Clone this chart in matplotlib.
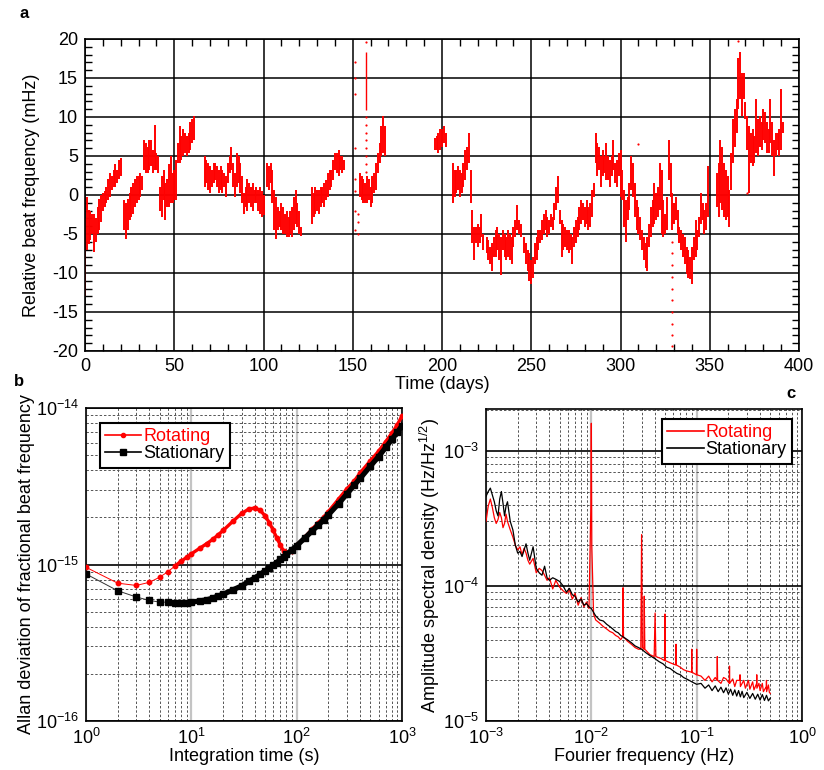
import numpy as np
import matplotlib
matplotlib.use("Agg")
import matplotlib.pyplot as plt
from matplotlib.lines import Line2D
from matplotlib.ticker import MultipleLocator, LogLocator, NullFormatter

plt.rcParams["font.family"] = ["Liberation Sans", "DejaVu Sans"]
plt.rcParams["mathtext.fontset"] = "custom"
plt.rcParams["mathtext.rm"] = "Liberation Sans"
plt.rcParams["mathtext.it"] = "Liberation Sans:italic"
plt.rcParams["mathtext.bf"] = "Liberation Sans:bold"
plt.rcParams["axes.unicode_minus"] = False

# --- panel a: daily min / max of beat frequency (mHz) ---
a_day = [0, 1, 2, 3, 4, 5, 6, 7, 8, 9, 10, 11, 12, 13, 14, 15, 16, 17, 18, 19, 20,
         22, 23, 24, 25, 26, 27, 28, 29, 30, 31, 32, 33, 34, 35, 36, 37, 38, 39, 40, 41,
         42, 43, 44, 45, 46, 47, 48, 49, 50, 51, 52, 53, 54, 55, 56, 57, 58, 59, 60, 61,
         67, 68, 69, 70, 71, 72, 73, 74, 75, 76, 77, 78, 79, 80, 81, 82, 83, 84, 85, 86,
         87, 88, 89, 90, 91, 92, 93, 94, 95, 96, 97, 98, 99, 100,
         102, 103, 104, 105, 106, 107, 108, 109, 110, 111, 112, 113, 114, 115, 116, 117,
         118, 119, 120, 121,
         127, 128, 129, 130, 131, 132, 133, 134, 135, 136, 137, 138, 139, 140, 141, 142,
         143, 144, 145,
         154, 155, 156, 157, 158, 159, 160, 161, 162, 163, 164, 165, 166, 167, 168,
         196, 197, 198, 199, 200, 201, 202,
         206, 207, 208, 209, 210, 211, 212, 213, 214, 215, 216, 217, 218, 219, 220, 221,
         222, 223, 225, 226, 227, 228, 229, 230, 231, 232, 233, 234, 235, 236, 237, 238,
         239, 240, 241, 242, 243, 244, 246, 247, 248, 249, 250, 251, 252, 253, 254, 255,
         256, 257, 258, 259, 260, 261, 262, 263, 264, 265, 266, 267, 268, 269, 270, 271,
         272, 273, 274, 275, 276, 277, 278, 279, 280, 281, 282, 283, 284, 285, 286, 287,
         288, 289, 290, 291, 292, 293, 294, 295, 296, 297, 298, 299, 300, 301, 302, 303,
         304, 305, 306, 307, 308, 309, 310, 311, 312, 313, 314, 315, 316, 317, 318, 319,
         320, 321, 322, 323, 324, 325, 326, 327, 328, 329, 330, 331, 332, 333, 334, 335,
         336, 337, 338, 339, 340, 341, 342, 343, 344, 345, 346, 347, 348, 349,
         354, 355, 356, 357, 358, 359, 360, 361, 362, 363, 364, 365, 366, 367, 368, 369,
         370, 371, 372, 373, 374, 375, 376, 377, 378, 379, 380, 381, 382, 383, 384, 385,
         386, 387, 388, 389, 390, 391]
a_lo = [-13.0, -7.1, -6.3, -5.8, -5.0, -7.3, -6.0, -5.0, -4.5, -3.5, -2.0, -1.5, -1.0, -0.6, -0.2, 0.6, 1.0, 1.0, 1.5, 2.0, 2.4,
        -4.5, -5.6, -4.5, -3.2, -2.8, -2.4, -1.5, -1.0, -0.6, -0.2, 0.6, 3.2, 2.8, 2.8, 3.2, 3.7, 2.8, 3.2, 3.2, 2.8,
        -2.0, -2.8, -0.6, -3.2, -1.5, -1.5, -1.0, -1.0, -0.6, -0.6, 4.1, 4.1, 4.5, 5.0, 5.4, 5.0, 5.4, 5.8, 6.7, 7.1,
        1.0, 1.5, 0.6, 0.2, 1.0, 1.5, 1.9, 1.0, 0.2, 0.6, 0.2, 1.0, -0.2, 1.5, 2.8, 3.2, 1.0, -0.2, 1.0, 1.5,
        0.2, -1.0, -2.4, -1.5, -2.0, -1.0, -1.5, -2.0, -1.0, -1.0, -2.0, -2.5, -2.8, -2.6,
        1.0, 0.6, 1.5, -1.0, -4.5, -5.6, -4.5, -4.1, -4.5, -5.0, -5.0, -5.4, -5.4, -5.0, -5.4, -4.5,
        -3.7, -4.1, -5.0, -5.2,
        -3.7, -2.8, -2.4, -2.0, -2.4, -1.5, -1.0, -1.5, -0.6, -0.2, 0.6, 1.0, 1.9, 3.2, 2.8, 2.4,
        3.2, 2.8, 3.2,
        -0.2, -0.6, -1.0, -1.0, -1.0, -0.6, -1.5, -1.0, 0.2, 0.6, 2.8, 4.1, 5.0, 5.4, 5.0,
        5.8, 5.8, 5.4, 5.8, 6.2, 6.7, 6.2,
        -1.0, -0.2, 0.2, 0.6, -0.2, 0.2, 1.0, 1.9, 3.2, 4.1, -1.0, -6.2, -8.4, -6.2, -6.7, -6.2,
        -5.4, -7.1, -7.5, -8.4, -8.8, -9.7, -8.0, -8.0, -7.1, -8.4, -10.3, -7.1, -8.0, -8.4, -8.0, -8.4,
        -8.8, -6.7, -5.4, -4.5, -5.0, -5.4, -7.5, -8.8, -9.7, -11.0, -11.4, -10.6, -8.8, -8.4, -7.1, -6.2,
        -5.8, -5.0, -4.5, -5.4, -5.0, -4.1, -4.5, -3.2, -1.9, -1.0, -3.7, -8.0, -7.1, -6.7, -7.1, -7.5,
        -7.1, -8.8, -6.7, -6.2, -5.4, -4.5, -3.7, -3.2, -4.1, -3.7, -4.5, -4.1, -2.8, -0.2, 4.1, 2.4,
        3.2, 1.0, 2.4, 2.8, 1.9, 1.9, 1.0, 2.4, 3.2, 1.5, 1.0, 2.4, -0.2, -0.6, -4.1, -6.0,
        -3.2, -1.9, 0.6, -0.2, -2.8, -4.5, -5.0, -5.8, -7.1, -8.4, -9.3, -9.7, -6.7, -5.4, -4.1, -3.7,
        -3.2, -2.8, -1.9, -5.0, -5.4, -5.0, -4.5, 1.9, -0.2, -4.5, -3.7, -3.2, -5.0, -6.2, -7.1, -8.0,
        -8.8, -10.1, -10.6, -10.8, -11.4, -8.4, -8.0, -7.1, -5.4, -3.7, -3.2, -5.0, -4.5, -2.8,
        -1.5, -2.8, -1.0, -1.9, -2.8, -3.2, -2.8, -4.1, 0.6, 4.1, 6.2, 8.0, 11.0, 12.3, 10.1, 12.3,
        9.7, 5.8, 0.2, 4.1, 3.7, 4.1, 5.4, 5.0, 6.2, 5.8, 7.1, 6.7, 5.4, 5.4, 6.7, 5.0,
        2.4, 5.0, 5.8, 5.0, 5.8, 7.9]
a_hi = [-3.0, -0.2, -1.9, -2.0, -2.5, -2.5, -3.0, -1.5, -0.5, 0.0, 0.3, 0.5, 1.0, 2.0, 2.8, 2.4, 3.2, 4.0, 3.2, 4.5, 4.7,
        -0.6, -1.0, -0.5, 0.2, 1.0, 1.5, 2.0, 2.4, 2.4, 2.8, 2.4, 7.1, 6.7, 6.2, 7.1, 7.1, 5.8, 9.0, 5.4, 5.0,
        1.0, 2.4, 3.2, 1.5, 2.0, 4.0, 5.0, 2.8, 3.2, 4.5, 6.7, 8.8, 7.5, 8.4, 8.0, 7.5, 8.0, 9.3, 9.7, 10.1,
        5.0, 4.5, 4.1, 3.7, 3.2, 4.1, 4.1, 3.7, 3.2, 3.7, 3.2, 2.8, 2.4, 4.1, 5.0, 6.2, 4.1, 2.8, 5.4, 5.0,
        4.1, 2.4, 0.2, 1.0, 2.0, 1.5, 1.0, 1.5, 0.6, 1.0, 0.6, 1.0, 0.5, 0.0,
        4.1, 3.7, 4.1, 3.2, 0.6, -0.2, -1.5, -2.0, -1.0, -1.5, -2.4, -2.0, -2.8, -2.0, -1.5, -0.2,
        0.6, -1.0, -2.0, -4.1,
        1.0, 0.2, 1.0, 0.6, 0.6, 1.0, 1.0, 1.5, 1.9, 2.8, 3.2, 3.2, 4.5, 5.4, 5.4, 5.8,
        5.0, 5.0, 4.5,
        2.8, 2.4, 2.0, 1.5, 2.4, 2.0, 1.0, 2.4, 2.8, 4.1, 5.4, 6.7, 8.8, 10.1, 8.8,
        7.3, 7.5, 8.0, 8.4, 8.4, 8.8, 8.0,
        4.1, 3.2, 3.2, 3.7, 3.2, 2.8, 4.1, 5.8, 6.2, 7.9, 3.2, -1.9, -4.1, -4.1, -3.7, -4.1,
        -2.4, -5.0, -5.4, -5.8, -6.7, -6.2, -5.4, -4.5, -4.1, -5.0, -5.4, -4.5, -5.0, -5.4, -4.5, -5.0,
        -5.4, -4.1, -3.2, -1.3, -3.2, -3.7, -5.4, -6.2, -7.1, -7.5, -8.4, -8.0, -6.2, -5.4, -4.5, -4.5,
        -3.2, -2.4, -1.9, -2.8, -3.2, -2.4, -2.8, -1.0, 1.0, 2.4, -1.9, -3.2, -3.7, -4.1, -4.5, -4.5,
        -5.0, -5.4, -4.1, -3.2, -2.8, -1.5, -0.6, -1.0, -1.5, -0.6, -1.5, -1.0, 0.6, 1.5, 7.9, 6.7,
        6.2, 5.0, 5.8, 5.0, 6.7, 5.0, 4.5, 5.0, 7.1, 4.1, 4.5, 5.4, 5.8, 3.2, 0.6, -0.6,
        -0.2, 1.5, 5.0, 4.1, 1.5, -0.6, -1.5, -2.8, -4.5, -5.4, -6.2, -5.4, -3.7, -1.5, -0.6, 1.5,
        0.2, 1.0, 4.1, 3.2, -0.6, -2.4, -0.2, 7.1, 4.1, 0.2, -1.0, -0.2, -1.9, -4.1, -4.5, -5.0,
        -5.4, -6.7, -7.1, -8.0, -6.7, -5.4, -3.2, -4.5, -2.8, 0.2, -1.0, -1.9, -1.0, 3.7,
        2.8, 4.1, 7.1, 6.2, 4.1, 3.2, 2.4, 0.6, 5.4, 9.7, 11.0, 12.3, 17.5, 18.3, 15.7, 15.7,
        11.9, 10.1, 8.8, 7.9, 8.4, 7.5, 12.3, 9.7, 10.1, 9.3, 11.0, 10.6, 9.3, 8.4, 12.3, 9.3,
        7.1, 7.9, 7.9, 8.4, 13.6, 9.3]
# isolated points and the dense spike near day 157
spike_day = [157.5]
spike_lo = [10.9]
spike_hi = [18.3]
dot_day = [151, 151, 151, 151, 151, 151, 151, 151, 153, 153, 153,
           157.5, 157.5, 157.5, 157.5, 157.5, 157.5, 157.5, 157.5, 157.5,
           329, 329, 329, 329, 329, 329, 329, 329, 329, 329, 366, 310, 371]
dot_val = [-4.5, -2.0, 0.5, 2.0, 6.0, 13.0, 15.0, 17.0, -5.0, -3.5, -2.5,
           3.0, 4.0, 5.0, 6.0, 7.0, 8.0, 9.0, 10.0, 19.6,
           -6.0, -7.5, -9.0, -10.5, -12.0, -13.5, -15.0, -16.5, -18.0, -19.3, 19.8, 6.5, 0.2]

# --- panel b: Allan deviation ---
tau = [1, 2, 3, 4, 5, 6, 7, 8, 9, 10, 12, 14, 16, 18, 20, 25, 30, 35, 40, 45, 50, 55,
       60, 65, 70, 75, 80, 90, 100, 120, 140, 160, 180, 200, 250, 300, 350, 400, 500,
       600, 700, 800, 900, 1000]
adev_rot = [9.6e-16, 7.6e-16, 7.35e-16, 7.7e-16, 8.3e-16, 9.0e-16, 9.8e-16, 1.05e-15,
            1.11e-15, 1.17e-15, 1.27e-15, 1.36e-15, 1.45e-15, 1.55e-15, 1.65e-15, 1.9e-15,
            2.12e-15, 2.26e-15, 2.3e-15, 2.22e-15, 2.05e-15, 1.85e-15, 1.65e-15, 1.47e-15,
            1.33e-15, 1.22e-15, 1.17e-15, 1.22e-15, 1.33e-15, 1.5e-15, 1.68e-15, 1.85e-15,
            2.0e-15, 2.18e-15, 2.62e-15, 3.05e-15, 3.4e-15, 3.85e-15, 4.6e-15, 5.3e-15,
            6.1e-15, 6.9e-15, 7.8e-15, 8.9e-15]
adev_stat = [8.7e-16, 6.8e-16, 6.2e-16, 5.9e-16, 5.75e-16, 5.75e-16, 5.7e-16, 5.7e-16,
             5.7e-16, 5.75e-16, 5.85e-16, 5.95e-16, 6.1e-16, 6.3e-16, 6.45e-16, 6.9e-16,
             7.3e-16, 7.8e-16, 8.2e-16, 8.65e-16, 9.1e-16, 9.5e-16, 9.9e-16, 1.03e-15,
             1.08e-15, 1.12e-15, 1.16e-15, 1.24e-15, 1.32e-15, 1.48e-15, 1.64e-15, 1.78e-15,
             1.93e-15, 2.08e-15, 2.45e-15, 2.83e-15, 3.2e-15, 3.55e-15, 4.25e-15, 4.9e-15,
             5.6e-15, 6.3e-15, 7.0e-15, 7.7e-15]

# --- panel c: amplitude spectral density ---
f_stat = [1.0e-3, 1.05e-3, 1.1e-3, 1.15e-3, 1.2e-3, 1.25e-3, 1.3e-3, 1.35e-3, 1.4e-3,
          1.45e-3, 1.5e-3, 1.55e-3, 1.6e-3, 1.7e-3, 1.8e-3, 1.9e-3, 2.0e-3, 2.1e-3, 2.2e-3,
          2.3e-3, 2.4e-3, 2.5e-3, 2.6e-3, 2.8e-3, 3.0e-3, 3.2e-3, 3.4e-3, 3.6e-3, 3.8e-3,
          4.0e-3, 4.3e-3, 4.6e-3, 5.0e-3, 5.4e-3, 5.8e-3, 6.2e-3, 6.6e-3, 7.0e-3, 7.5e-3,
          8.0e-3, 8.5e-3, 9.0e-3, 9.5e-3, 0.010, 0.011, 0.012, 0.013, 0.014, 0.015, 0.016,
          0.017, 0.018, 0.019, 0.020, 0.022, 0.024, 0.026, 0.028, 0.030, 0.033, 0.036,
          0.040, 0.044, 0.048, 0.052, 0.056, 0.060, 0.065, 0.070, 0.075, 0.080, 0.085,
          0.090, 0.10, 0.11, 0.12, 0.13, 0.14, 0.15, 0.16, 0.17, 0.18, 0.19, 0.20, 0.21,
          0.22, 0.23, 0.24, 0.25, 0.26, 0.27, 0.28, 0.30, 0.32, 0.34, 0.36, 0.38, 0.40,
          0.42, 0.44, 0.46, 0.48, 0.50]
asd_stat = [4.6e-4, 5.0e-4, 5.3e-4, 4.7e-4, 4.2e-4, 3.6e-4, 3.3e-4, 4.4e-4, 5.0e-4,
            4.1e-4, 3.3e-4, 3.9e-4, 4.2e-4, 3.0e-4, 2.6e-4, 2.0e-4, 1.75e-4, 1.8e-4, 1.65e-4,
            1.85e-4, 2.05e-4, 1.75e-4, 1.55e-4, 1.95e-4, 1.35e-4, 1.25e-4, 1.2e-4, 1.4e-4,
            1.15e-4, 1.1e-4, 1.15e-4, 1.12e-4, 1.08e-4, 1.0e-4, 0.9e-4, 0.96e-4, 0.86e-4,
            0.84e-4, 0.76e-4, 0.8e-4, 0.72e-4, 0.74e-4, 0.7e-4, 0.68e-4, 0.6e-4, 0.56e-4,
            0.55e-4, 0.52e-4, 0.5e-4, 0.48e-4, 0.46e-4, 0.45e-4, 0.43e-4, 0.42e-4, 0.4e-4,
            0.38e-4, 0.36e-4, 0.35e-4, 0.34e-4, 0.32e-4, 0.305e-4, 0.29e-4, 0.275e-4,
            0.265e-4, 0.25e-4, 0.245e-4, 0.235e-4, 0.225e-4, 0.22e-4, 0.21e-4, 0.205e-4,
            0.2e-4, 0.195e-4, 0.187e-4, 0.19e-4, 0.175e-4, 0.185e-4, 0.168e-4, 0.182e-4,
            0.165e-4, 0.178e-4, 0.162e-4, 0.176e-4, 0.158e-4, 0.172e-4, 0.155e-4, 0.17e-4,
            0.153e-4, 0.168e-4, 0.151e-4, 0.166e-4, 0.149e-4, 0.163e-4, 0.147e-4, 0.16e-4,
            0.145e-4, 0.158e-4, 0.143e-4, 0.157e-4, 0.142e-4, 0.155e-4, 0.141e-4, 0.148e-4]
f_rot = [1.0e-3, 1.05e-3, 1.1e-3, 1.15e-3, 1.2e-3, 1.25e-3, 1.3e-3, 1.35e-3, 1.4e-3,
         1.45e-3, 1.5e-3, 1.55e-3, 1.6e-3, 1.7e-3, 1.8e-3, 1.9e-3, 2.0e-3, 2.1e-3, 2.2e-3,
         2.3e-3, 2.4e-3, 2.5e-3, 2.6e-3, 2.8e-3, 3.0e-3, 3.2e-3, 3.4e-3, 3.6e-3, 3.8e-3,
         4.0e-3, 4.3e-3, 4.6e-3, 5.0e-3, 5.4e-3, 5.8e-3, 6.2e-3, 6.6e-3, 7.0e-3, 7.5e-3,
         8.0e-3, 8.5e-3, 9.0e-3, 9.5e-3, 9.9e-3, 0.0100, 0.0101, 0.0105, 0.011, 0.012,
         0.013, 0.014, 0.015, 0.016, 0.017, 0.018, 0.019, 0.0198, 0.0200, 0.0202, 0.022,
         0.024, 0.026, 0.028, 0.0295, 0.0300, 0.0305, 0.0315, 0.0318, 0.0322, 0.036,
         0.0395, 0.0403, 0.041, 0.046, 0.0495, 0.0500, 0.0505, 0.056, 0.0632, 0.0637,
         0.0642, 0.070, 0.075, 0.080, 0.0895, 0.0898, 0.0902, 0.0995, 0.100, 0.1005, 0.11,
         0.12, 0.13, 0.14, 0.15, 0.156, 0.157, 0.158, 0.17, 0.18, 0.19, 0.204, 0.205, 0.206,
         0.22, 0.23, 0.24, 0.257, 0.258, 0.26, 0.28, 0.29, 0.31, 0.32, 0.34, 0.35, 0.371,
         0.372, 0.373, 0.39, 0.40, 0.42, 0.43, 0.459, 0.460, 0.461, 0.48, 0.49, 0.50]
asd_rot = [3.0e-4, 3.9e-4, 4.4e-4, 3.8e-4, 3.2e-4, 2.9e-4, 3.1e-4, 3.5e-4, 3.2e-4,
           2.7e-4, 2.9e-4, 3.4e-4, 3.0e-4, 2.6e-4, 2.3e-4, 2.0e-4, 1.85e-4, 1.95e-4, 1.7e-4,
           1.9e-4, 1.75e-4, 1.55e-4, 1.45e-4, 1.6e-4, 1.25e-4, 1.35e-4, 1.3e-4, 1.2e-4,
           1.1e-4, 1.15e-4, 0.95e-4, 1.1e-4, 0.98e-4, 0.92e-4, 0.88e-4, 0.93e-4, 0.8e-4,
           0.88e-4, 0.72e-4, 0.82e-4, 0.7e-4, 0.76e-4, 0.68e-4, 3.9e-4, 1.6e-3, 2.0e-4,
           0.62e-4, 0.56e-4, 0.53e-4, 0.5e-4, 0.48e-4, 0.46e-4, 0.45e-4, 0.43e-4, 0.42e-4,
           0.4e-4, 0.42e-4, 0.97e-4, 0.42e-4, 0.39e-4, 0.37e-4, 0.35e-4, 0.34e-4, 0.34e-4,
           2.4e-4, 0.35e-4, 0.34e-4, 0.84e-4, 0.34e-4, 0.31e-4, 0.3e-4, 0.63e-4, 0.3e-4,
           0.29e-4, 0.28e-4, 0.62e-4, 0.28e-4, 0.27e-4, 0.26e-4, 0.37e-4, 0.26e-4, 0.25e-4,
           0.24e-4, 0.235e-4, 0.23e-4, 0.34e-4, 0.23e-4, 0.22e-4, 0.34e-4, 0.22e-4, 0.215e-4,
           0.2e-4, 0.215e-4, 0.195e-4, 0.21e-4, 0.2e-4, 0.3e-4, 0.2e-4, 0.19e-4, 0.21e-4,
           0.205e-4, 0.19e-4, 0.255e-4, 0.19e-4, 0.205e-4, 0.18e-4, 0.2e-4, 0.2e-4, 0.22e-4,
           0.18e-4, 0.2e-4, 0.175e-4, 0.2e-4, 0.172e-4, 0.195e-4, 0.17e-4, 0.19e-4, 0.22e-4,
           0.175e-4, 0.19e-4, 0.168e-4, 0.19e-4, 0.165e-4, 0.18e-4, 0.2e-4, 0.165e-4,
           0.185e-4, 0.163e-4, 0.16e-4]

fig = plt.figure(figsize=(8.24, 7.70), dpi=100)
FS = 13

# ---------------- panel a ----------------
axa = fig.add_axes([0.1032, 0.5442, 0.8665, 0.4052])
axa.vlines(a_day, a_lo, a_hi, color="red", lw=1.4)
axa.vlines(spike_day, spike_lo, spike_hi, color="red", lw=1.0)
axa.scatter(dot_day, dot_val, s=2.5, color="red", lw=0)
axa.set_xlim(0, 400)
axa.set_ylim(-20, 20)
axa.xaxis.set_major_locator(MultipleLocator(50))
axa.xaxis.set_minor_locator(MultipleLocator(10))
axa.yaxis.set_major_locator(MultipleLocator(5))
axa.yaxis.set_minor_locator(MultipleLocator(1))
axa.grid(which="major", color="black", lw=1.1)
axa.set_axisbelow(True)
axa.tick_params(which="both", direction="in", top=True, right=True, labelsize=FS)
axa.tick_params(which="major", length=0, pad=5)
axa.tick_params(which="minor", length=5, width=1)
for s in axa.spines.values():
    s.set_linewidth(1.2)
axa.set_xlabel("Time (days)", fontsize=FS, labelpad=1)
axa.set_ylabel("Relative beat frequency (mHz)", fontsize=FS, labelpad=9)


def log_style(ax):
    ax.set_xscale("log")
    ax.set_yscale("log")
    ax.xaxis.set_minor_locator(LogLocator(base=10, subs=np.arange(2, 10)))
    ax.yaxis.set_minor_locator(LogLocator(base=10, subs=np.arange(2, 10)))
    ax.xaxis.set_minor_formatter(NullFormatter())
    ax.yaxis.set_minor_formatter(NullFormatter())
    ax.grid(which="minor", color="#555555", ls=(0, (2.5, 2)), lw=0.7)
    ax.grid(which="major", axis="x", color="#c4c4c4", ls="-", lw=1.6)
    ax.grid(which="major", axis="y", color="black", ls="-", lw=1.2)
    ax.set_axisbelow(True)
    ax.tick_params(which="both", direction="in", top=True, right=True, labelsize=FS)
    ax.tick_params(which="major", length=0, pad=5)
    ax.tick_params(which="minor", length=0)
    for s in ax.spines.values():
        s.set_linewidth(1.2)


# ---------------- panel b ----------------
axb = fig.add_axes([0.1044, 0.0636, 0.3835, 0.4065])
log_style(axb)
axb.plot(tau, adev_rot, color="red", lw=0.7, marker="o", ms=3.2, mec="red", zorder=3)
axb.plot(tau[6:], adev_rot[6:], color="red", lw=2.4, zorder=3)
axb.plot(tau, adev_stat, color="#333333", lw=0.7, marker="s", ms=5, mfc="black",
         mec="black", zorder=4)
axb.plot(tau[6:], adev_stat[6:], color="black", lw=3.8, zorder=4)
axb.set_xlim(1, 1000)
axb.set_ylim(1e-16, 1e-14)
axb.set_xlabel("Integration time (s)", fontsize=FS, labelpad=0)
axb.set_ylabel("Allan deviation of fractional beat frequency", fontsize=FS, labelpad=1)
hb = [Line2D([], [], color="red", lw=1.2, marker="o", ms=3),
      Line2D([], [], color="black", lw=1.2, marker="s", ms=5)]
legb = axb.legend(hb, ["Rotating", "Stationary"], loc="upper left",
                  bbox_to_anchor=(0.044, 0.952), borderaxespad=0, fontsize=13,
                  fancybox=False, edgecolor="black", framealpha=1, handlelength=2.0,
                  handletextpad=0.1, labelspacing=0.0, borderpad=0.3, numpoints=1)
legb.get_frame().set_linewidth(1.5)
legb.get_texts()[0].set_color("red")

# ---------------- panel c ----------------
axc = fig.add_axes([0.5898, 0.0636, 0.3835, 0.4052])
log_style(axc)
axc.plot(f_rot, asd_rot, color="red", lw=0.9, zorder=3)
axc.plot(f_stat, asd_stat, color="black", lw=0.9, zorder=4)
axc.set_xlim(1e-3, 1)
axc.set_ylim(1e-5, 2.04e-3)
axc.set_xlabel("Fourier frequency (Hz)", fontsize=FS, labelpad=0)
axc.set_ylabel("Amplitude spectral density (Hz/Hz$^{1/2}$)", fontsize=FS, labelpad=1)
hc = [Line2D([], [], color="red", lw=1.2), Line2D([], [], color="black", lw=1.2)]
legc = axc.legend(hc, ["Rotating", "Stationary"], loc="upper right",
                  bbox_to_anchor=(0.968, 0.968), borderaxespad=0, fontsize=13,
                  fancybox=False, edgecolor="black", framealpha=1, handlelength=2.0,
                  handletextpad=0.1, labelspacing=0.0, borderpad=0.3)
legc.get_frame().set_linewidth(1.5)
legc.get_texts()[0].set_color("red")

# panel letters
fig.text(19 / 824, 1 - 13 / 770, "a", fontsize=12, fontweight="bold", ha="left", va="center")
fig.text(14 / 824, 1 - 381 / 770, "b", fontsize=12, fontweight="bold", ha="left", va="center")
fig.text(786 / 824, 1 - 394 / 770, "c", fontsize=12, fontweight="bold", ha="left", va="center")

fig.savefig("out.png", dpi=100)
